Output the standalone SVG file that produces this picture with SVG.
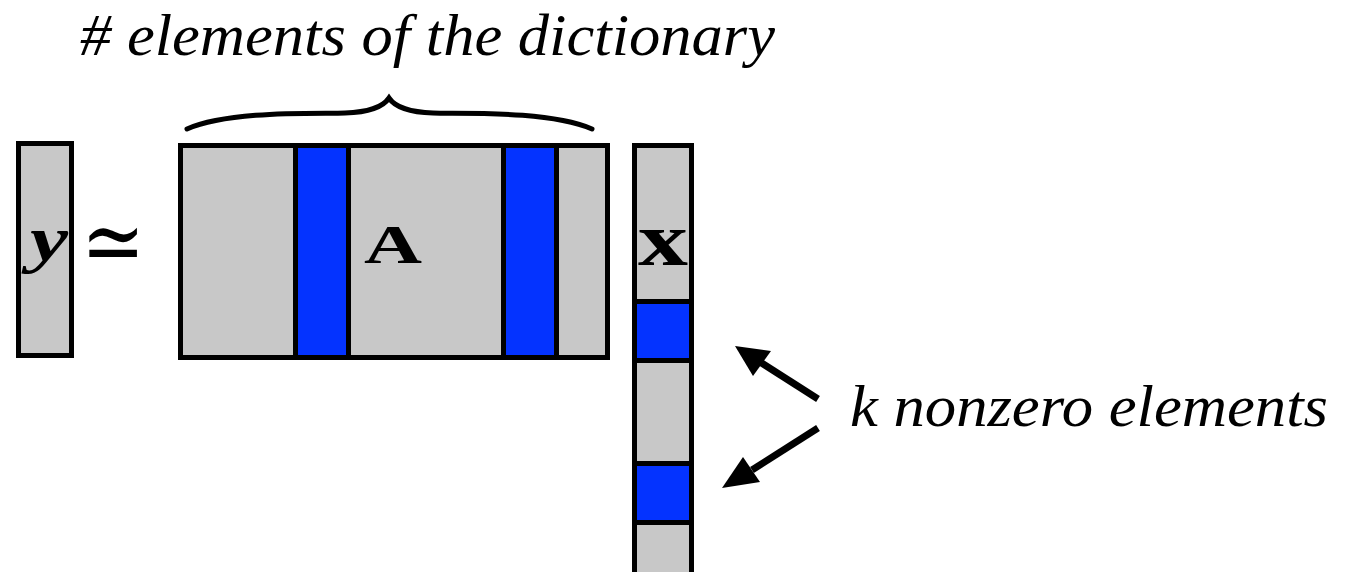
<svg xmlns="http://www.w3.org/2000/svg" width="1354" height="572" viewBox="0 0 1354 572">
<style>
.cell{fill:#c8c8c8;stroke:#000;stroke-width:5}
.blue{fill:#0433ff;stroke:#000;stroke-width:5}
.lbl{font-family:"Liberation Serif","DejaVu Serif",serif;font-weight:bold;fill:#000}
.cap{font-family:"Liberation Serif","DejaVu Serif",serif;font-style:italic;fill:#000}
.arrow{stroke:#000;stroke-width:7;fill:none}
</style>
<rect width="1354" height="572" fill="#fff"/>
<g id="title">
<text class="cap" x="80" y="55" font-size="60" textLength="695" lengthAdjust="spacingAndGlyphs"># elements of the dictionary</text>
</g>
<g id="brace">
<path d="M187,129 C230,110 320,114 345,113 C375,112 385,104 389,98 C393,104 403,112 433,113 C458,114 548,110 592,129" fill="none" stroke="#000" stroke-width="5" stroke-linecap="round"/>
</g>
<g id="vec-y">
<rect class="cell" x="18.5" y="143.5" width="53" height="212"/>
<text class="lbl" x="30" y="260" font-size="64" font-style="italic" textLength="38" lengthAdjust="spacingAndGlyphs">y</text>
</g>
<g id="approx">
<text transform="translate(113,273) scale(1,1.22)" x="0" y="0" text-anchor="middle" font-family="DejaVu Serif, serif" font-size="76" fill="#000">≃</text>
</g>
<g id="matrix-A">
<rect class="cell" x="180.5" y="145.5" width="427" height="212"/>
<rect class="blue" x="295.5" y="145.5" width="53" height="212"/>
<rect class="blue" x="503.5" y="145.5" width="53" height="212"/>
<text class="lbl" x="364" y="263" font-size="54" textLength="58" lengthAdjust="spacingAndGlyphs">A</text>
</g>
<g id="vec-x">
<rect class="cell" x="634.5" y="145.5" width="57" height="440"/>
<rect class="blue" x="634.5" y="301.5" width="57" height="59"/>
<rect class="blue" x="634.5" y="463.5" width="57" height="59"/>
<text class="lbl" x="638" y="265" font-size="76" textLength="50" lengthAdjust="spacingAndGlyphs">x</text>
</g>
<g id="connectors">
<line class="arrow" x1="818" y1="399" x2="760" y2="362"/>
<polygon points="735,346 771,351 753,376" fill="#000"/>
<line class="arrow" x1="818" y1="428" x2="752" y2="470"/>
<polygon points="722,488 743,457 760,482" fill="#000"/>
</g>
<g id="label-k">
<text class="cap" x="850" y="426" font-size="60" textLength="478" lengthAdjust="spacingAndGlyphs">k nonzero elements</text>
</g>
</svg>
